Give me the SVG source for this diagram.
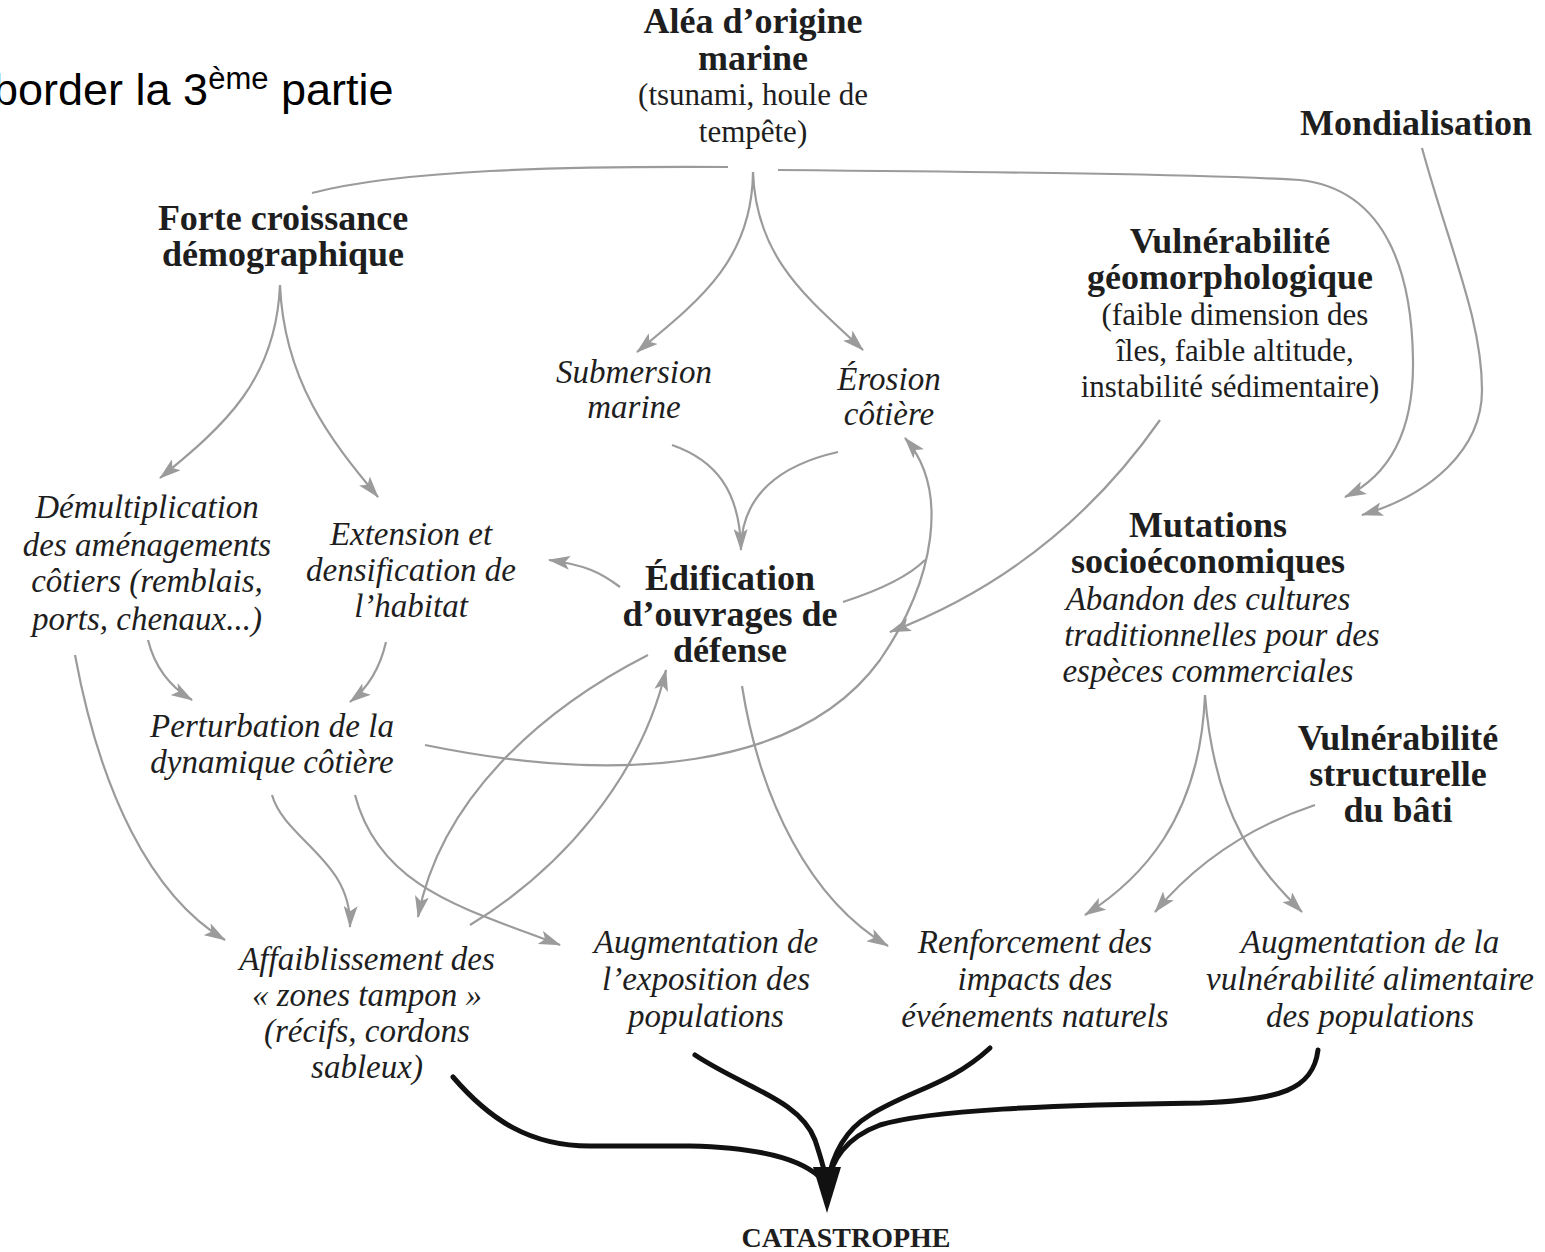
<svg xmlns="http://www.w3.org/2000/svg" width="1545" height="1252" viewBox="0 0 1545 1252">
<style>
text{font-family:"Liberation Serif","Times New Roman",serif;fill:#1e1e1e;text-anchor:middle}
.b{font-weight:bold;font-size:36px}
.i{font-style:italic;font-size:33px}
.r{font-size:31px}
.c{fill:none;stroke:#9b9b9b;stroke-width:2.2}
.a{marker-end:url(#ar)}
.k{fill:none;stroke:#111;stroke-width:5;stroke-linecap:round}
</style>
<defs>
<marker id="ar" viewBox="0 0 22 14" refX="21" refY="7" markerWidth="22" markerHeight="14" markerUnits="userSpaceOnUse" orient="auto">
<path d="M0,0 L22,7 L0,14 L5,7 Z" fill="#9b9b9b"/>
</marker>
</defs>
<rect width="1545" height="1252" fill="#fff"/>
<text x="-7" y="105" style="font-family:'Liberation Sans',Arial,sans-serif;font-size:45px;text-anchor:start;fill:#000">border la 3<tspan dy="-16" font-size="31">ème</tspan><tspan dy="16"> partie</tspan></text>

<g id="connectors">
<path class="c" d="M 728,167 C 560,166 400,170 312,193"/>
<path class="c a" d="M 778,170 C 1000,172 1200,174 1300,180 C 1390,190 1412,280 1413,360 C 1414,430 1390,475 1345,497"/>
<path class="c a" d="M 1422,148 C 1450,250 1482,320 1482,390 C 1482,450 1430,495 1362,515"/>
<path class="c a" d="M 753,172 C 752,260 700,300 637,352"/>
<path class="c a" d="M 753,172 C 756,260 810,300 863,350"/>
<path class="c a" d="M 672,445 C 715,460 740,490 741,550"/>
<path class="c" d="M 838,452 C 780,465 742,495 741,548"/>
<path class="c a" d="M 620,587 C 600,572 585,565 549,560"/>
<path class="c a" d="M 280,285 C 276,380 225,425 160,478"/>
<path class="c a" d="M 280,285 C 284,380 330,440 378,497"/>
<path class="c a" d="M 148,640 C 155,668 172,688 192,700"/>
<path class="c a" d="M 386,642 C 380,668 368,688 350,702"/>
<path class="c a" d="M 75,655 C 100,790 150,895 225,940"/>
<path class="c a" d="M 425,745 C 620,785 800,770 880,660 C 935,580 950,490 905,438"/>
<path class="c" d="M 843,602 C 880,590 910,575 925,560"/>
<path class="c a" d="M 648,655 C 540,710 440,800 418,917"/>
<path class="c a" d="M 470,925 C 560,870 640,780 666,670"/>
<path class="c a" d="M 272,795 C 285,840 352,860 350,927"/>
<path class="c a" d="M 355,795 C 380,890 470,910 560,945"/>
<path class="c a" d="M 742,686 C 760,800 810,900 888,946"/>
<path class="c a" d="M 1160,420 C 1090,520 1000,590 890,632"/>
<path class="c a" d="M 1205,695 C 1200,820 1140,880 1085,915"/>
<path class="c a" d="M 1205,695 C 1215,820 1260,870 1302,912"/>
<path class="c a" d="M 1315,805 C 1240,830 1190,870 1155,912"/>
<path class="k" d="M 453,1077 C 490,1120 530,1146 590,1146 L 690,1146 C 770,1148 810,1162 827,1185"/>
<path class="k" d="M 695,1055 C 745,1088 800,1100 815,1140 C 821,1158 825,1170 827,1185"/>
<path class="k" d="M 990,1048 C 950,1085 910,1090 870,1115 C 845,1130 832,1155 827,1185"/>
<path class="k" d="M 1318,1050 C 1313,1090 1280,1100 1200,1103 C 1050,1105 930,1110 880,1125 C 845,1138 832,1160 827,1185"/>
<polygon points="813,1167 841,1167 827,1213" fill="#111"/>
</g>

<g id="alea"><text class="b" x="753" y="33">Aléa d’origine</text><text class="b" x="753" y="70">marine</text><text class="r" x="753" y="105">(tsunami, houle de</text><text class="r" x="753" y="142">tempête)</text></g>
<g id="mondialisation"><text class="b" x="1416" y="135">Mondialisation</text></g>
<g id="forte-croissance"><text class="b" x="283" y="230">Forte croissance</text><text class="b" x="283" y="266">démographique</text></g>
<g id="vuln-geo"><text class="b" x="1230" y="253">Vulnérabilité</text><text class="b" x="1230" y="289">géomorphologique</text><text class="r" x="1235" y="325">(faible dimension des</text><text class="r" x="1235" y="361">îles, faible altitude,</text><text class="r" x="1230" y="397">instabilité sédimentaire)</text></g>
<g id="submersion"><text class="i" x="634" y="383">Submersion</text><text class="i" x="634" y="418">marine</text></g>
<g id="erosion"><text class="i" x="889" y="390">Érosion</text><text class="i" x="889" y="425">côtière</text></g>
<g id="demultiplication"><text class="i" x="147" y="518">Démultiplication</text><text class="i" x="147" y="556">des aménagements</text><text class="i" x="147" y="592">côtiers (remblais,</text><text class="i" x="147" y="630">ports, chenaux...)</text></g>
<g id="extension"><text class="i" x="411" y="545">Extension et</text><text class="i" x="411" y="581">densification de</text><text class="i" x="411" y="617">l’habitat</text></g>
<g id="edification"><text class="b" x="730" y="590">Édification</text><text class="b" x="730" y="626">d’ouvrages de</text><text class="b" x="730" y="662">défense</text></g>
<g id="mutations"><text class="b" x="1208" y="537">Mutations</text><text class="b" x="1208" y="573">socioéconomiques</text><text class="i" x="1208" y="610">Abandon des cultures</text><text class="i" x="1222" y="646">traditionnelles pour des</text><text class="i" x="1208" y="682">espèces commerciales</text></g>
<g id="perturbation"><text class="i" x="272" y="737">Perturbation de la</text><text class="i" x="272" y="773">dynamique côtière</text></g>
<g id="vuln-struct"><text class="b" x="1398" y="750">Vulnérabilité</text><text class="b" x="1398" y="786">structurelle</text><text class="b" x="1398" y="822">du bâti</text></g>
<g id="affaiblissement"><text class="i" x="367" y="970">Affaiblissement des</text><text class="i" x="367" y="1006">« zones tampon »</text><text class="i" x="367" y="1042">(récifs, cordons</text><text class="i" x="367" y="1078">sableux)</text></g>
<g id="aug-exposition"><text class="i" x="706" y="953">Augmentation de</text><text class="i" x="706" y="990">l’exposition des</text><text class="i" x="706" y="1027">populations</text></g>
<g id="renforcement"><text class="i" x="1035" y="953">Renforcement des</text><text class="i" x="1035" y="990">impacts des</text><text class="i" x="1035" y="1027">événements naturels</text></g>
<g id="aug-alimentaire"><text class="i" x="1370" y="953">Augmentation de la</text><text class="i" x="1370" y="990">vulnérabilité alimentaire</text><text class="i" x="1370" y="1027">des populations</text></g>
<g id="catastrophe"><text x="846" y="1247" style="font-weight:bold;font-size:28px">CATASTROPHE</text></g>
</svg>
